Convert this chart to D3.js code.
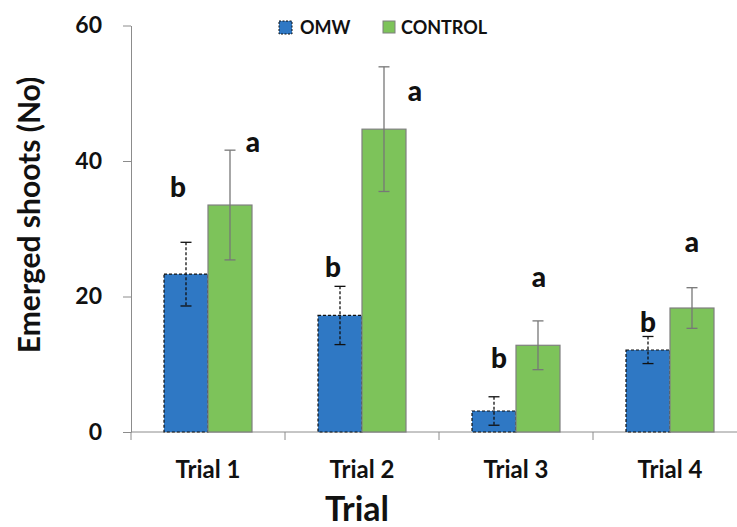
<!DOCTYPE html>
<html>
<head>
<meta charset="utf-8">
<script src="https://cdn.jsdelivr.net/npm/d3@7"></script>
<style>
  body { margin: 0; background: #fff; }
  svg { display: block; font-family: Lato, "Open Sans", sans-serif; font-weight: bold; }
</style>
</head>
<body>
<div id="chart"></div>
<script>
const trials = ['Trial 1', 'Trial 2', 'Trial 3', 'Trial 4'];
const seriesNames = ['OMW', 'CONTROL'];
const omwMean = [23.3, 17.2, 3.1, 12.1];
const omwErr = [4.7, 4.3, 2.1, 2.0];
const controlMean = [33.5, 44.7, 12.8, 18.3];
const controlErr = [8.1, 9.2, 3.6, 3.0];
const omwLetters = ['b', 'b', 'b', 'b'];
const controlLetters = ['a', 'a', 'a', 'a'];
const omwLetterY = [34.7, 22.9, 9.4, 14.8];
const controlLetterY = [41.3, 48.9, 21.4, 26.6];
const yTicks = [0, 20, 40, 60];

const W = 737, H = 527;
const BLUE = '#2f78c4', GREEN = '#7dc35a', AXIS = '#8c8c8c';
const BAR_W = 44;

const svg = d3.select('#chart').append('svg').attr('width', W).attr('height', H);

const x = d3.scaleBand().domain(trials).range([131, 747]);
const y = d3.scaleLinear().domain([0, 60]).range([432, 25.5]);

// y axis
const yAxis = svg.append('g').attr('transform', 'translate(131,0)')
  .call(d3.axisLeft(y).tickValues(yTicks).tickSize(8).tickPadding(21).tickSizeOuter(0));
yAxis.attr('font-family', null);
yAxis.select('.domain').attr('stroke', AXIS);
yAxis.selectAll('.tick line').attr('stroke', AXIS);
yAxis.selectAll('.tick text').attr('fill', '#111').style('font-size', '23px').style('font-weight', 'bold');

// x axis
svg.append('line').attr('x1', 131).attr('x2', W).attr('y1', y(0)).attr('y2', y(0)).attr('stroke', AXIS);
svg.selectAll('.xtick').data(trials).enter().append('line')
  .attr('x1', d => x(d)).attr('x2', d => x(d))
  .attr('y1', y(0)).attr('y2', y(0) + 8).attr('stroke', AXIS);
svg.selectAll('.xlabel').data(trials).enter().append('text')
  .attr('x', d => x(d) + x.bandwidth() / 2).attr('y', 478)
  .attr('text-anchor', 'middle').style('font-size', '24px').attr('fill', '#111')
  .text(d => d);

const series = [
  { name: seriesNames[0], mean: omwMean, err: omwErr, letters: omwLetters, ly: omwLetterY, off: -BAR_W, fill: BLUE, stroke: '#111', dash: '3,2', estroke: '#111' },
  { name: seriesNames[1], mean: controlMean, err: controlErr, letters: controlLetters, ly: controlLetterY, off: 0, fill: GREEN, stroke: '#7f7f7f', dash: null, estroke: '#777' }
];
// horizontal nudges of the significance letters (px from bar centre)
const letterDx = [[-8, -7, 5, 0], [23, 31, 1, 0]];

series.forEach((s, si) => {
  const g = svg.append('g');
  const cx = i => x(trials[i]) + x.bandwidth() / 2 + s.off;
  g.selectAll('rect').data(s.mean).enter().append('rect')
    .attr('x', (d, i) => cx(i)).attr('width', BAR_W)
    .attr('y', d => y(d)).attr('height', d => y(0) - y(d))
    .attr('fill', s.fill).attr('stroke', s.stroke).attr('stroke-width', 1.2)
    .attr('stroke-dasharray', s.dash);
  s.mean.forEach((m, i) => {
    const mx = cx(i) + BAR_W / 2;
    const top = y(m + s.err[i]), bot = y(m - s.err[i]);
    g.append('line').attr('x1', mx).attr('x2', mx).attr('y1', top).attr('y2', bot)
      .attr('stroke', s.estroke).attr('stroke-width', 1.3).attr('stroke-dasharray', s.dash);
    [top, bot].forEach(yy => g.append('line').attr('x1', mx - 5.5).attr('x2', mx + 5.5)
      .attr('y1', yy).attr('y2', yy).attr('stroke', s.estroke).attr('stroke-width', 1.3));
    g.append('text').attr('x', mx + letterDx[si][i]).attr('y', y(s.ly[i]))
      .attr('text-anchor', 'middle').style('font-size', '28px').style('font-weight', '900').attr('fill', '#111')
      .text(s.letters[i]);
  });
});

// legend
const legend = svg.append('g');
legend.append('rect').attr('x', 279).attr('y', 21).attr('width', 13).attr('height', 13)
  .attr('fill', BLUE).attr('stroke', '#111').attr('stroke-dasharray', '2,1.5');
legend.append('text').attr('x', 300).attr('y', 34).style('font-size', '18px').attr('fill', '#111').text(seriesNames[0]);
legend.append('rect').attr('x', 383).attr('y', 21).attr('width', 12).attr('height', 12)
  .attr('fill', GREEN).attr('stroke', '#7f7f7f');
legend.append('text').attr('x', 401).attr('y', 34).style('font-size', '18px').attr('fill', '#111').text(seriesNames[1]);

// axis titles
svg.append('text').attr('x', 357).attr('y', 521).attr('text-anchor', 'middle')
  .style('font-size', '34px').attr('fill', '#111').text('Trial');
svg.append('text').attr('transform', 'translate(40,215) rotate(-90)').attr('text-anchor', 'middle')
  .style('font-size', '30px').attr('fill', '#111').text('Emerged shoots (No)');
</script>
</body>
</html>
